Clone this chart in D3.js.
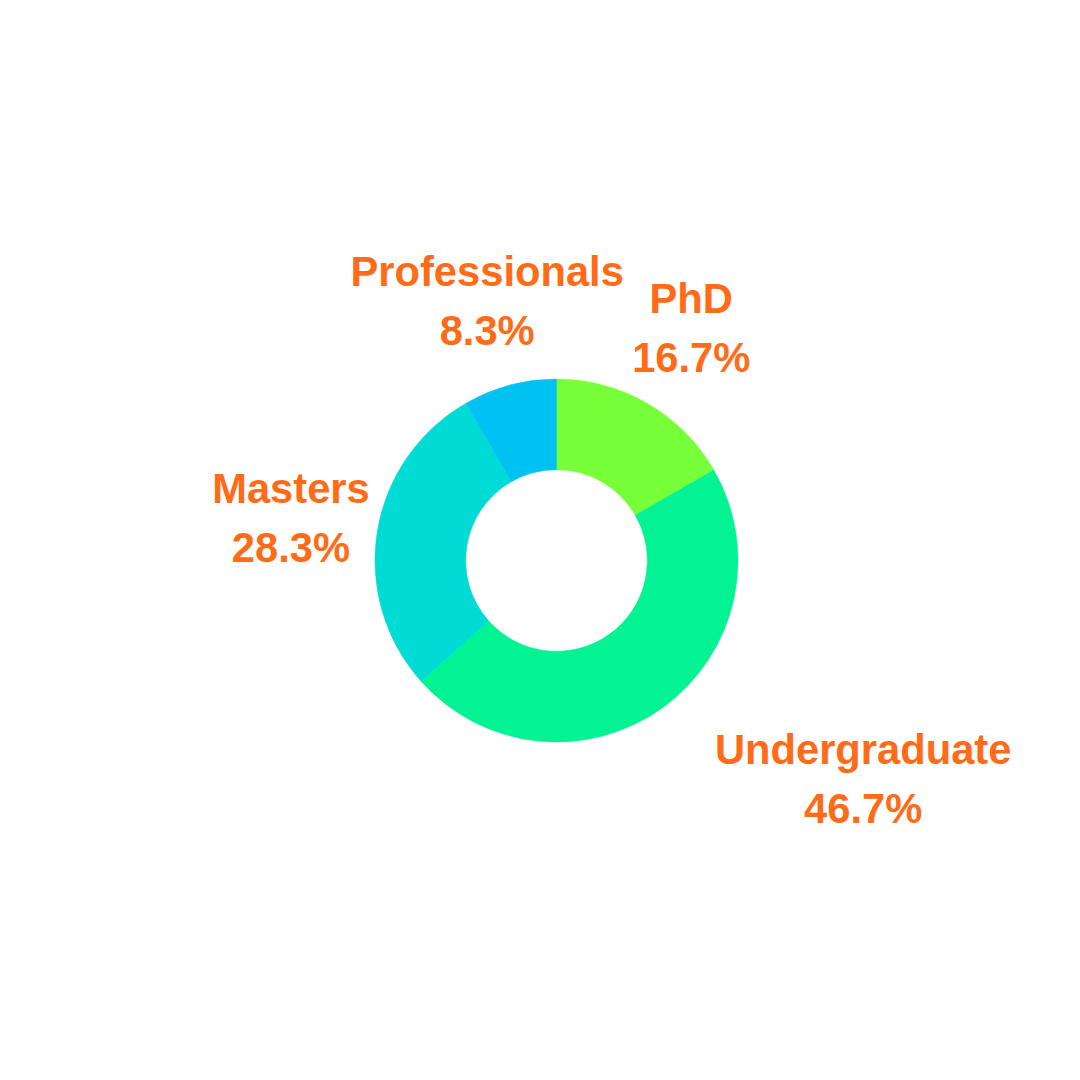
<!DOCTYPE html>
<html>
<head>
<meta charset="utf-8">
<script src="https://cdn.jsdelivr.net/npm/d3@7"></script>
<style>
html,body{margin:0;padding:0;background:#fff;}
svg{display:block;}
</style>
</head>
<body>
<svg id="chart" width="1080" height="1080"></svg>
<script>
const categories = ["PhD", "Undergraduate", "Masters", "Professionals"];
const values = [16.7, 46.7, 28.3, 8.3];
const percentLabels = ["16.7%", "46.7%", "28.3%", "8.3%"];
const colors = ["#77FF3A", "#03F293", "#00DBD6", "#00C2F2"];

const svg = d3.select("#chart");
const cx = 556.5, cy = 560.5;
const outerR = 181.5, innerR = 90.8, labelR = 269;
const fontSize = 41.7, lineH = 59;

const data = categories.map((c, i) => ({name: c, value: values[i], pct: percentLabels[i], color: colors[i]}));

const pie = d3.pie().value(d => d.value).sort(null);
const arcs = pie(data);
const arc = d3.arc().innerRadius(innerR).outerRadius(outerR);
const labelArc = d3.arc().innerRadius(labelR).outerRadius(labelR);

const g = svg.append("g").attr("transform", `translate(${cx},${cy})`);

g.selectAll("path.slice")
  .data(arcs)
  .enter().append("path")
  .attr("class", "slice")
  .attr("d", arc)
  .attr("fill", d => d.data.color)
  .attr("stroke", d => d.data.color)
  .attr("stroke-width", 0.5);

const labels = g.selectAll("g.label")
  .data(arcs)
  .enter().append("g")
  .attr("class", "label");

labels.each(function(d) {
  const [px, py] = labelArc.centroid(d);
  const sel = d3.select(this);
  const t1 = sel.append("text").text(d.data.name);
  const t2 = sel.append("text").text(d.data.pct);
  sel.selectAll("text")
    .attr("font-family", "'Liberation Sans', Arial, Helvetica, sans-serif")
    .attr("font-weight", "bold")
    .attr("font-size", fontSize)
    .attr("fill", "#FF6B17")
    .attr("text-anchor", "middle");
  const mid = (d.startAngle + d.endAngle) / 2;
  let x = px;
  // lower-right labels: block starts at anchor point
  if (mid > Math.PI / 2 && mid < Math.PI) {
    const w = Math.max(t1.node().getComputedTextLength(), t2.node().getComputedTextLength());
    x = px + 1 + w / 2;
  }
  t1.attr("x", x).attr("y", py - 14.5);
  t2.attr("x", x).attr("y", py - 14.5 + lineH);
});
</script>
</body>
</html>
